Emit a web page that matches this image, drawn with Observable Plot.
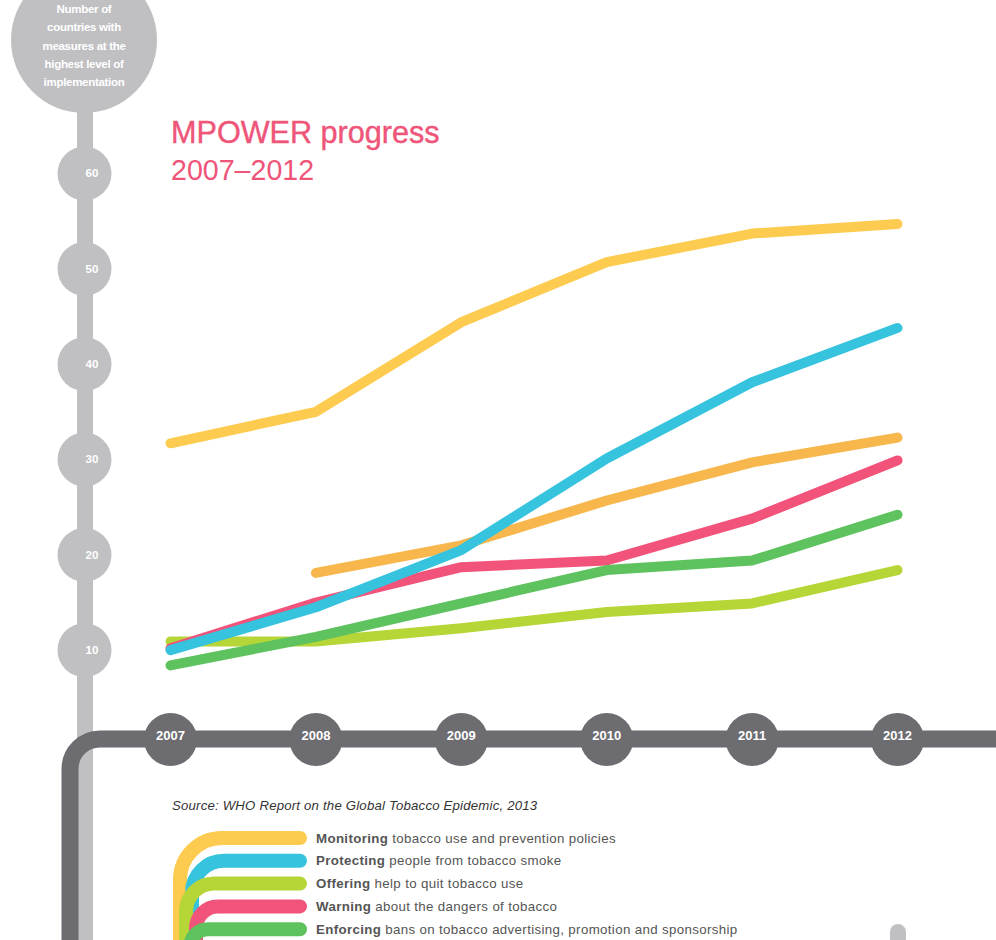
<!DOCTYPE html>
<html><head><meta charset="utf-8">
<script src="https://cdn.jsdelivr.net/npm/d3@7"></script>
<script src="https://cdn.jsdelivr.net/npm/@observablehq/plot@0.6"></script>
<style>
body{margin:0;background:#fff;}
#chart{position:relative;width:996px;height:940px;overflow:hidden;}
#chart svg{font-family:"Liberation Sans",Arial,sans-serif;}
</style>
</head><body><div id="chart"></div>
<script>
// ---- data ----
const years = [2007, 2008, 2009, 2010, 2011, 2012];
const yTicks = [10, 20, 30, 40, 50, 60];
const monitoring = [31.7, 35, 44.4, 50.7, 53.7, 54.7];
const raisingTaxes = [null, 18.1, 21, 25.7, 29.7, 32.3];
const offering = [10.9, 10.9, 12.3, 14, 14.9, 18.4];
const warning = [10.2, 15, 18.7, 19.4, 23.8, 29.9];
const enforcing = [8.4, 11.4, 14.9, 18.4, 19.4, 24.2];
const protecting = [10, 14.5, 20.5, 30.1, 38.1, 43.8];

const legendBold = ["Monitoring", "Protecting", "Offering", "Warning", "Enforcing"];
const legendRest = [" tobacco use and prevention policies", " people from tobacco smoke", " help to quit tobacco use", " about the dangers of tobacco", " bans on tobacco advertising, promotion and sponsorship"];
const legendColors = ["#FDCB4F", "#36C3DD", "#B6D536", "#F2537A", "#5EC25F"];

const titleLine1 = "MPOWER progress";
const titleLine2 = "2007\u20132012";
const axisTitle = ["Number of", "countries with", "measures at the", "highest level of", "implementation"];
const sourceText = "Source: WHO Report on the Global Tobacco Epidemic, 2013";

// drawing order (bottom to top)
const series = [
  {name: "Monitoring", color: "#FDCB4F", values: monitoring},
  {name: "Raising taxes", color: "#F8B74D", values: raisingTaxes},
  {name: "Offering", color: "#B6D536", values: offering},
  {name: "Warning", color: "#F2537A", values: warning},
  {name: "Enforcing", color: "#5EC25F", values: enforcing},
  {name: "Protecting", color: "#36C3DD", values: protecting}
];
const data = series.flatMap(s => years.map((yr, i) => ({series: s.name, color: s.color, year: yr, value: s.values[i]})));

const lightGray = "#c0c0c3";
const darkGray = "#6c6c71";

const plot = Plot.plot({
  width: 996, height: 940,
  marginLeft: 170, marginRight: 99, marginTop: 173, marginBottom: 195,
  x: {domain: [2007, 2012], axis: null},
  y: {domain: [0, 60], axis: null},
  color: {type: "identity"},
  style: {background: "transparent", overflow: "visible", fontFamily: "Liberation Sans, Arial, sans-serif"},
  marks: [
    Plot.dot(yTicks, {y: d => d, frameAnchor: "left", dx: -86, r: 27, fill: lightGray, stroke: "none"}),
    Plot.text(yTicks, {y: d => d, frameAnchor: "left", dx: -85, text: d => String(d), fill: "white", fontWeight: "bold", fontSize: 11.5}),
    Plot.dot(years, {x: d => d, frameAnchor: "bottom", dy: -6, r: 26.5, fill: darkGray, stroke: "none"}),
    Plot.text(years, {x: d => d, frameAnchor: "bottom", dy: -6, text: d => String(d), fill: "white", fontWeight: "bold", fontSize: 13, letterSpacing: "-0.8px"}),
    Plot.line(data.filter(d => d.value != null), {x: "year", y: "value", z: "series", stroke: "color", strokeWidth: 10, strokeLinecap: "round", strokeLinejoin: "round"})
  ]
});

document.getElementById("chart").appendChild(plot);

// ---- decorations ----
const svg = d3.select(plot);
const deco = svg.insert("g", ":first-child");
deco.append("line").attr("x1", 85).attr("x2", 85).attr("y1", 40).attr("y2", 960)
  .attr("stroke", lightGray).attr("stroke-width", 16);
deco.append("circle").attr("cx", 84).attr("cy", 40).attr("r", 73).attr("fill", lightGray);
deco.append("path").attr("d", "M 1010 739 H 100 A 30 30 0 0 0 70 769 V 960")
  .attr("fill", "none").attr("stroke", darkGray).attr("stroke-width", 17);

const at = svg.append("g").attr("text-anchor", "middle").attr("fill", "white")
  .attr("font-weight", "bold").attr("font-size", 11.5).attr("letter-spacing", "-0.3px");
axisTitle.forEach((t, i) => at.append("text").attr("x", 84).attr("y", 13 + i * 18.3).text(t));

// title
svg.append("text").attr("x", 171).attr("y", 143).attr("fill", "#EE5579").attr("text-anchor", "start")
  .attr("font-size", 30.6).attr("stroke", "#EE5579").attr("stroke-width", 0.4).text(titleLine1);
svg.append("text").attr("x", 171).attr("y", 180).attr("fill", "#EE5579").attr("text-anchor", "start")
  .attr("font-size", 28.6).attr("font-weight", 300).text(titleLine2);

// source
svg.append("text").attr("x", 172).attr("y", 810).attr("fill", "#333").attr("text-anchor", "start")
  .attr("font-size", 13.2).attr("letter-spacing", "0.2px").attr("font-style", "italic").text(sourceText);

// legend
const lg = svg.append("g").attr("text-anchor", "start");
const lx = [180, 192, 186, 196, 190];
const lr = [42, 32, 28, 22, 18];
legendBold.forEach((b, i) => {
  const y = 838 + i * 22.8;
  lg.append("path")
    .attr("d", `M 300 ${y} H ${lx[i] + lr[i]} A ${lr[i]} ${lr[i]} 0 0 0 ${lx[i]} ${y + lr[i]} V 980`)
    .attr("fill", "none").attr("stroke", legendColors[i]).attr("stroke-width", 14)
    .attr("stroke-linecap", "round");
  const t = lg.append("text").attr("x", 316).attr("y", y + 4.5).attr("font-size", 13.3)
    .attr("letter-spacing", "0.35px").attr("fill", "#555");
  t.append("tspan").attr("font-weight", "bold").text(b);
  t.append("tspan").text(legendRest[i]);
});

// small element at bottom right
svg.append("rect").attr("x", 890).attr("y", 924).attr("width", 16).attr("height", 40).attr("rx", 8).attr("fill", lightGray);
</script>
</body></html>
